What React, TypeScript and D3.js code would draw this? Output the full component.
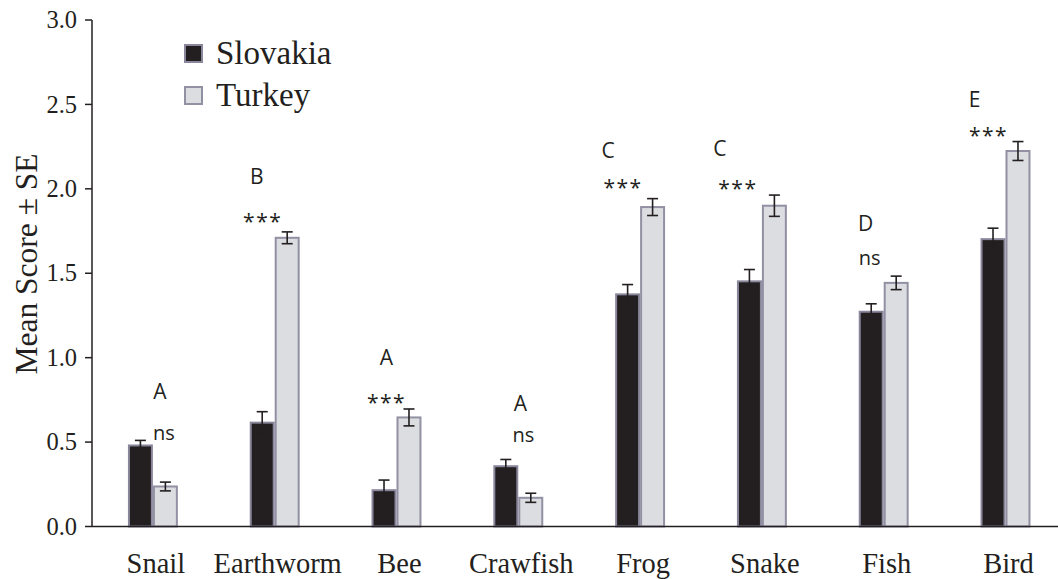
import React from "react";
import * as d3 from "d3";

// Mean scores (± SE) per animal for the two samples
const categories = ["Snail", "Earthworm", "Bee", "Crawfish", "Frog", "Snake", "Fish", "Bird"];
const slovakiaMean = [0.48, 0.615, 0.215, 0.357, 1.375, 1.452, 1.272, 1.702];
const slovakiaSE = [0.03, 0.065, 0.06, 0.04, 0.058, 0.07, 0.047, 0.065];
const turkeyMean = [0.237, 1.71, 0.646, 0.17, 1.892, 1.9, 1.443, 2.224];
const turkeySE = [0.026, 0.035, 0.05, 0.027, 0.05, 0.063, 0.04, 0.056];

// Post-hoc grouping letters and country-difference significance
const groupLetters = ["A", "B", "A", "A", "C", "C", "D", "E"];
const significance = ["ns", "***", "***", "ns", "***", "***", "ns", "***"];

const seriesNames = ["Slovakia", "Turkey"];
const yTicks = [0, 0.5, 1, 1.5, 2, 2.5, 3];

const WIDTH = 1058;
const HEIGHT = 579;

const COLORS = {
  Slovakia: { fill: "#231f20", stroke: "#8a879c" },
  Turkey: { fill: "#dcdde0", stroke: "#9290a3" },
};

// label nudges per group: [letter dx, letter dy (from sig), sig dx, sig dy (from whisker top)]
const labelNudge: [number, number, number, number][] = [
  [7, -41, 11, 0],
  [-18, -46, -12, -2],
  [-10, -46, -10, 2],
  [2, -31, 5, -17],
  [-32, -38, -17, -3],
  [-42, -41, -24, 2],
  [-18, -34, -14, -11],
  [-31, -37, -17, 2],
];

const serifStyle = { fontFamily: "Liberation Serif, Times New Roman, serif" };
const sansStyle = { fontFamily: "Open Sans, sans-serif" };

export default function App() {
  const axisX = 92;
  const axisBottom = 526.5;
  const axisTop = 20;

  const x = d3
    .scaleBand<string>()
    .domain(categories)
    .range([axisX, axisX + 8 * 121.8])
    .paddingInner(0.59)
    .paddingOuter(0.295);

  const xInner = d3.scaleBand<string>().domain(seriesNames).range([0, x.bandwidth()]);

  const y = d3.scaleLinear().domain([0, 3]).range([axisBottom, axisTop]);

  const ink = "#231f20";

  const rows = categories.map((c, i) => ({
    cat: c,
    bars: [
      { name: "Slovakia", mean: slovakiaMean[i], se: slovakiaSE[i] },
      { name: "Turkey", mean: turkeyMean[i], se: turkeySE[i] },
    ],
  }));

  return (
    <svg width={WIDTH} height={HEIGHT} style={{ position: "absolute", left: 0, top: 0, background: "#fff" }}>
      {/* y axis */}
      <line x1={axisX} x2={axisX} y1={y(3)} y2={axisBottom} stroke={ink} strokeWidth={1.5} />
      {yTicks.map((t) => (
        <g key={t}>
          <line x1={axisX - 7} x2={axisX} y1={y(t)} y2={y(t)} stroke={ink} strokeWidth={1.5} />
          <text x={77} y={y(t)} dy="0.33em" textAnchor="end" style={serifStyle} fontSize={24.5} fill={ink}>
            {d3.format(".1f")(t)}
          </text>
        </g>
      ))}
      <text transform={`translate(37,264) rotate(-90)`} textAnchor="middle" style={serifStyle} fontSize={31.5} fill={ink}>
        Mean Score ± SE
      </text>

      {/* bars */}
      {rows.map((r) => (
        <g key={r.cat} transform={`translate(${x(r.cat)},0)`}>
          {r.bars.map((b) => {
            const c = COLORS[b.name as "Slovakia" | "Turkey"];
            const bx = xInner(b.name)!;
            const bw = xInner.bandwidth();
            return (
              <rect
                key={b.name}
                x={bx + 1}
                y={y(b.mean)}
                width={bw - 2}
                height={axisBottom - y(b.mean)}
                fill={c.fill}
                stroke={c.stroke}
                strokeWidth={2}
              />
            );
          })}
          {r.bars.map((b) => {
            const cx = xInner(b.name)! + xInner.bandwidth() / 2;
            const hi = y(b.mean + b.se);
            const lo = y(b.mean - b.se);
            return (
              <g key={b.name + "-err"} stroke={ink} strokeWidth={1.6}>
                <line x1={cx} x2={cx} y1={hi} y2={lo} />
                <line x1={cx - 5.5} x2={cx + 5.5} y1={hi} y2={hi} />
                <line x1={cx - 5.5} x2={cx + 5.5} y1={lo} y2={lo} />
              </g>
            );
          })}
        </g>
      ))}

      {/* x axis */}
      <line x1={axisX} x2={WIDTH} y1={axisBottom} y2={axisBottom} stroke={ink} strokeWidth={1.5} />
      {categories.map((c) => (
        <text
          key={c}
          x={x(c)! + x.bandwidth() / 2 + 3}
          y={573}
          textAnchor="middle"
          style={serifStyle}
          fontSize={28.5}
          fill={ink}
        >
          {c}
        </text>
      ))}

      {/* annotations */}
      {rows.map((r, i) => {
        const center = x(r.cat)! + x.bandwidth() / 2;
        const top = d3.min(r.bars, (b) => y(b.mean + b.se))!;
        const [ldx, ldy, sdx, sdy] = labelNudge[i];
        const sigY = top + sdy;
        const isStars = significance[i] === "***";
        return (
          <g key={r.cat + "-ann"} style={sansStyle} fill={ink}>
            <text x={center + ldx} y={sigY + ldy} textAnchor="middle" fontSize={21}>
              {groupLetters[i]}
            </text>
            <text
              x={center + sdx}
              y={isStars ? sigY - 1 : sigY}
              textAnchor="middle"
              fontSize={isStars ? 21 : 20}
              letterSpacing={isStars ? 1.5 : 0}
            >
              {significance[i]}
            </text>
          </g>
        );
      })}

      {/* legend */}
      {seriesNames.map((s, i) => {
        const c = COLORS[s as "Slovakia" | "Turkey"];
        const ly = 45 + i * 42;
        return (
          <g key={s}>
            <rect x={185} y={ly} width={17} height={17} fill={c.fill} stroke={c.stroke} strokeWidth={2} />
            <text x={216} y={ly + 18.5} style={serifStyle} fontSize={33} fill={ink}>
              {s}
            </text>
          </g>
        );
      })}
    </svg>
  );
}
